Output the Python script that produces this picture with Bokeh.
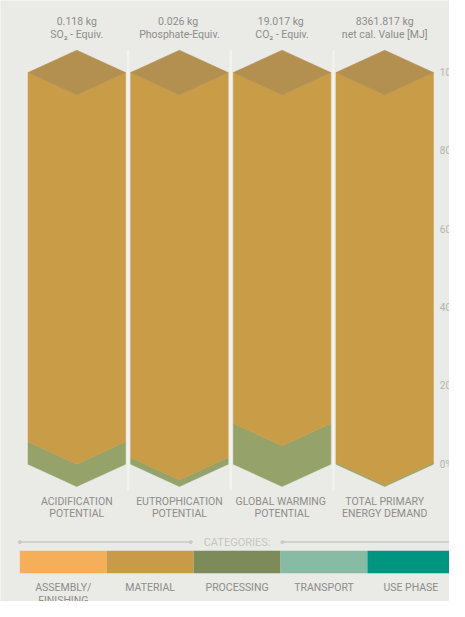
from bokeh.plotting import figure
from bokeh.models import Range1d
from bokeh.embed import file_html
from bokeh.resources import INLINE
from bokeh.core.properties import value

# ---- data ----
impact_categories = ["ACIDIFICATION\nPOTENTIAL", "EUTROPHICATION\nPOTENTIAL",
                     "GLOBAL  WARMING\nPOTENTIAL", "TOTAL PRIMARY\nENERGY DEMAND"]
totals = ["0.118 kg", "0.026  kg", "19.017  kg", "8361.817 kg"]
units = ["SO\u2082 - Equiv.", "Phosphate-Equiv.", "CO\u2082 - Equiv.", "net cal. Value [MJ]"]

legend_names = ["ASSEMBLY/\nFINISHING", "MATERIAL", "PROCESSING", "TRANSPORT", "USE PHASE"]
legend_colors = ["#f5ae5a", "#c89b48", "#7d8a5a", "#88bba3", "#009580"]

# shares in % (stack from bottom)
use_phase = [0, 0, 0, 0]
transport = [0, 0, 0, 0]
processing = [5.7, 1.7, 10.4, 0.4]
material = [94.3, 98.3, 89.6, 99.6]
assembly = [0, 0, 0, 0]

tick_values = [0, 20, 40, 60, 80, 100]
tick_labels = ["0%", "20%", "40%", "60%", "80%", "100%"]

# ---- styles ----
BG = "#eaeae6"
TXT = "#8d8d8b"
face_colors = {"use": "#009580", "transport": "#88bba3", "processing": "#95a36b",
               "material": "#c99c48", "assembly": "#f5ae5a"}
TOP = "#b38f50"
HALF = 0.475      # half column width (x units)
DEPTH = 5.72      # isometric depth (y units)
FONT = value("Roboto")
PX = 1 / 106.3    # x units per reference pixel

def ux(px_ref):
    return (px_ref - 79) * PX

p = figure(width=449, height=601, output_backend="svg", toolbar_location=None,
           x_range=Range1d(ux(0), ux(465)), y_range=Range1d(-35.07, 118.41),
           min_border=0, outline_line_color=None, background_fill_color=BG,
           border_fill_color=BG)
p.axis.visible = False
p.grid.visible = False

series = [("use", use_phase), ("transport", transport), ("processing", processing),
          ("material", material), ("assembly", assembly)]

# light gaps between columns
gap_x = [i + 0.5 for i in range(len(impact_categories) - 1)]
p.segment(x0=gap_x, x1=gap_x, y0=[-DEPTH - 1] * 3, y1=[100 + DEPTH] * 3,
          line_color="#f2f2ef", line_width=2.5)

xs_all, ys_all, cols = [], [], []
for i in range(len(impact_categories)):
    base = 0.0
    c = float(i)
    for name, vals in series:
        v = vals[i]
        if v <= 0:
            continue
        lo, hi = base, base + v
        xs_all.append([c - HALF, c, c + HALF, c + HALF, c, c - HALF])
        ys_all.append([lo, lo - DEPTH, lo, hi, hi - DEPTH, hi])
        cols.append(face_colors[name])
        base = hi
    # top diamond
    xs_all.append([c - HALF, c, c + HALF, c])
    ys_all.append([base, base + DEPTH, base, base - DEPTH])
    cols.append(TOP)

p.patches(xs_all, ys_all, fill_color=cols, line_color=cols, line_width=0.5)

xc = list(range(len(impact_categories)))
# top labels
p.text(x=xc, y=[114.7] * 4, text=[f"{t}\n{u}" for t, u in zip(totals, units)],
       text_align="center", text_baseline="top", text_font=FONT,
       text_font_size="10.5px", text_color=TXT, text_line_height=0.97)
# category labels
p.text(x=xc, y=[-7.8] * 4, text=impact_categories, text_align="center",
       text_baseline="top", text_font=FONT, text_font_size="10.5px",
       text_color=TXT, text_line_height=0.97)

# right tick labels
p.text(x=[ux(455)] * len(tick_values), y=tick_values, text=tick_labels,
       text_align="left", text_baseline="middle", text_font=FONT,
       text_font_size="10px", text_color="#b4b4b0")

# legend header
ly = -19.9
p.segment(x0=[ux(20), ux(292)], y0=[ly, ly], x1=[ux(197), ux(470)],
          y1=[ly, ly], line_color="#c9c9c5", line_width=1.5)
p.scatter(x=[ux(20), ux(197), ux(292)], y=[ly] * 3, size=3, color="#c9c9c5")
p.text(x=[ux(245)], y=[ly], text=["CATEGORIES:"], text_align="center",
       text_baseline="middle", text_font=FONT, text_font_size="11px",
       text_color="#c6c6c2")

n = len(legend_names)
sw = 90 * PX
lefts = [ux(20) + k * sw for k in range(n)]
p.quad(left=lefts, right=[l + sw for l in lefts], top=[-22.14] * n,
       bottom=[-27.86] * n, fill_color=legend_colors, line_color=None)
p.text(x=[l + sw / 2 for l in lefts], y=[-29.9] * n, text=legend_names,
       text_align="center", text_baseline="top", text_font=FONT,
       text_font_size="10.5px", text_color=TXT, text_line_height=0.97)

open("out.html", "w").write(file_html(p, INLINE))
